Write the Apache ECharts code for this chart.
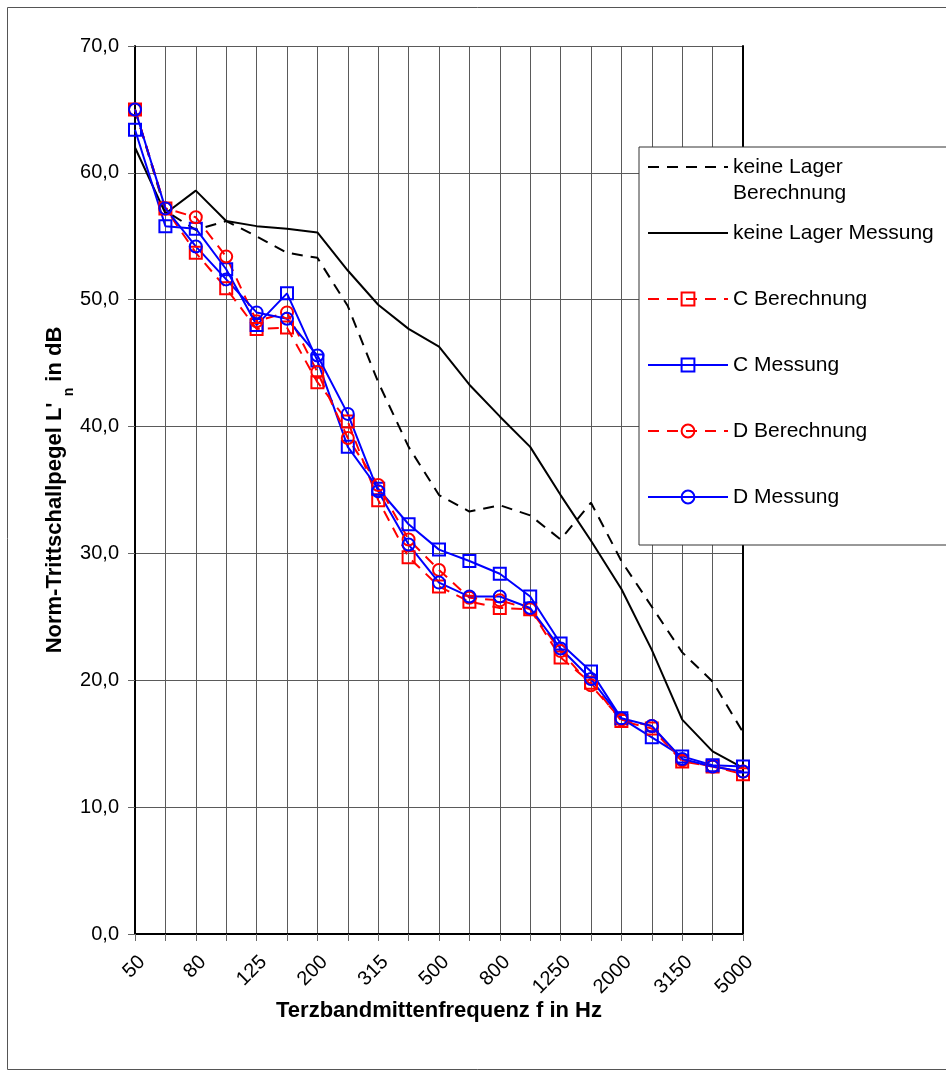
<!DOCTYPE html>
<html>
<head>
<meta charset="utf-8">
<script src="https://cdn.jsdelivr.net/npm/echarts@6/dist/echarts.min.js"></script>
<style>
html,body{margin:0;padding:0;background:#fff;}
#chart{width:946px;height:1077px;}
</style>
</head>
<body>
<div id="chart"></div>
<script>
// ---- data ----
const categories = ['50','63','80','100','125','160','200','250','315','400','500','630','800','1000','1250','1600','2000','2500','3150','4000','5000'];
const keineLagerBerechnung = [65.0, 57.0, 55.5, 56.2, 55.0, 53.7, 53.3, 49.5, 43.5, 38.4, 34.6, 33.3, 33.8, 33.0, 31.1, 34.0, 29.4, 25.8, 22.2, 19.9, 15.9];
const keineLagerMessung    = [62.0, 56.8, 58.6, 56.2, 55.8, 55.6, 55.3, 52.3, 49.6, 47.7, 46.3, 43.3, 40.8, 38.4, 34.6, 31.0, 27.2, 22.4, 16.9, 14.4, 13.1];
const cBerechnung          = [65.0, 57.2, 53.7, 50.9, 47.7, 47.8, 43.5, 40.4, 34.2, 29.7, 27.4, 26.2, 25.7, 25.6, 21.8, 19.8, 16.8, 16.2, 13.6, 13.2, 12.6];
const cMessung             = [63.4, 55.8, 55.6, 52.4, 48.0, 50.5, 45.2, 38.4, 35.1, 32.3, 30.3, 29.4, 28.4, 26.6, 22.9, 20.7, 17.0, 15.5, 14.0, 13.3, 13.2];
const dBerechnung          = [65.0, 57.2, 56.5, 53.4, 48.3, 49.0, 44.3, 39.1, 35.4, 31.1, 28.7, 26.5, 26.3, 25.6, 22.3, 19.6, 16.9, 16.4, 13.7, 13.2, 12.8];
const dMessung             = [65.0, 57.2, 54.2, 51.6, 49.0, 48.5, 45.6, 41.0, 34.9, 30.7, 27.7, 26.6, 26.6, 25.7, 22.5, 20.1, 17.0, 16.4, 13.8, 13.2, 12.8];
const seriesNames = ['keine Lager Berechnung','keine Lager Messung','C Berechnung','C Messung','D Berechnung','D Messung'];
const xTitle = 'Terzbandmittenfrequenz f in Hz';

const FONT = '"Liberation Sans", Arial, sans-serif';
const RED = '#ff0000', BLUE = '#0000ff', BLACK = '#000000';
const DASH = [11, 8];
const CLEAR = 'rgba(0,0,0,0)';

function lineSeries(name, data, color, dashed, symbol) {
  return {
    name: name,
    type: 'line',
    data: data,
    xAxisIndex: 0, yAxisIndex: 0,
    symbol: symbol || 'none',
    symbolSize: 12,
    showSymbol: !!symbol,
    lineStyle: { color: color, width: 2, type: dashed ? DASH : 'solid' },
    itemStyle: { color: CLEAR, borderColor: symbol ? color : CLEAR, borderWidth: symbol ? 2 : 0 },
    emphasis: { disabled: true },
    silent: true,
    animation: false
  };
}

const chart = echarts.init(document.getElementById('chart'), null, { renderer: 'canvas' });
chart.setOption({
  backgroundColor: '#ffffff',
  animation: false,
  textStyle: { fontFamily: FONT },
  graphic: [
    { type: 'rect', z: -10, silent: true, shape: { x: 7.5, y: 7.5, width: 1000, height: 1062 }, style: { fill: 'none', stroke: '#555', lineWidth: 1 } },
    { type: 'text', z: 100, silent: true, left: 733, top: 183, style: { text: 'Berechnung', font: '21px "Liberation Sans", Arial, sans-serif', fill: '#000' } }
  ],
  grid: { left: 135, right: 203, top: 46, bottom: 143, containLabel: false, outerBoundsMode: 'none' },
  legend: {
    orient: 'vertical',
    left: 639, top: 147,
    padding: [7, 60, 35, 8],
    itemGap: 40,
    itemWidth: 80, itemHeight: 16,
    backgroundColor: '#ffffff',
    borderColor: '#333', borderWidth: 1,
    data: seriesNames,
    formatter: function (n) { return n === 'keine Lager Berechnung' ? 'keine Lager' : n; },
    textStyle: { fontFamily: FONT, fontSize: 21, lineHeight: 26, color: '#000' },
    selectedMode: false,
    z: 20
  },
  xAxis: [{
    type: 'category',
    data: categories,
    boundaryGap: false,
    name: xTitle,
    nameLocation: 'middle',
    nameGap: 66,
    nameMoveOverlap: false,
    nameTextStyle: { fontFamily: FONT, fontSize: 22, fontWeight: 'bold', color: '#000', verticalAlign: 'top' },
    axisLine: { show: true, onZero: false, lineStyle: { color: '#000', width: 2 } },
    axisTick: { show: true, interval: 0, length: 7, lineStyle: { color: '#666', width: 1 } },
    axisLabel: { interval: 1, rotate: 45, margin: 18, verticalAlign: 'top', fontFamily: FONT, fontSize: 20, color: '#000' },
    splitLine: { show: true, interval: 0, lineStyle: { color: '#5a5a5a', width: 1 } }
  }, {
    type: 'category', data: categories, boundaryGap: false, position: 'top',
    axisLine: { show: true, lineStyle: { color: '#000', width: 2 } },
    axisTick: { show: false }, axisLabel: { show: false }, splitLine: { show: false }
  }],
  yAxis: [{
    type: 'value',
    min: 0, max: 70, interval: 10,
    name: "{a|Norm-Trittschallpegel L' }{s|n}{a| in dB}",
    nameLocation: 'middle',
    nameGap: 59,
    nameRotate: 90,
    nameMoveOverlap: false,
    nameTextStyle: {
      color: '#000',
      rich: {
        a: { fontFamily: FONT, fontSize: 22, fontWeight: 'bold', color: '#000', lineHeight: 42, verticalAlign: 'middle' },
        s: { fontFamily: FONT, fontSize: 14, fontWeight: 'bold', color: '#000', lineHeight: 16, verticalAlign: 'bottom' }
      }
    },
    axisLine: { show: true, onZero: false, lineStyle: { color: '#000', width: 2 } },
    axisTick: { show: true, length: 7, lineStyle: { color: '#666', width: 1 } },
    axisLabel: { margin: 16, fontFamily: FONT, fontSize: 20, color: '#000', formatter: function (v) { return v.toFixed(1).replace('.', ','); } },
    splitLine: { show: true, lineStyle: { color: '#5a5a5a', width: 1 } }
  }, {
    type: 'value', min: 0, max: 70, interval: 10, position: 'right',
    axisLine: { show: true, lineStyle: { color: '#000', width: 2 } },
    axisTick: { show: false }, axisLabel: { show: false }, splitLine: { show: false }
  }],
  series: [
    lineSeries(seriesNames[0], keineLagerBerechnung, BLACK, true, null),
    lineSeries(seriesNames[1], keineLagerMessung, BLACK, false, null),
    lineSeries(seriesNames[2], cBerechnung, RED, true, 'rect'),
    lineSeries(seriesNames[3], cMessung, BLUE, false, 'rect'),
    lineSeries(seriesNames[4], dBerechnung, RED, true, 'circle'),
    lineSeries(seriesNames[5], dMessung, BLUE, false, 'circle')
  ]
});
</script>
</body>
</html>
